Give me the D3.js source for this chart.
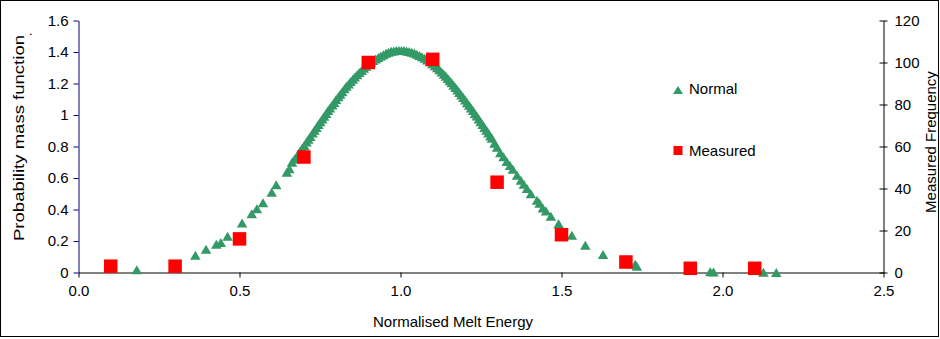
<!DOCTYPE html>
<html><head><meta charset="utf-8">
<script src="https://cdn.jsdelivr.net/npm/d3@7"></script>
<style>
html,body{margin:0;padding:0;background:#fff;}
svg text{font-family:"Liberation Sans",Arial,sans-serif;fill:#000;}
</style></head>
<body>
<svg id="chart" width="940" height="339"></svg>
<script>
// ---------- data ----------
const xTicks = [0.0, 0.5, 1.0, 1.5, 2.0, 2.5];
const yLeftTicks = [0, 0.2, 0.4, 0.6, 0.8, 1, 1.2, 1.4, 1.6];
const yRightTicks = [0, 20, 40, 60, 80, 100, 120];

const measuredX = [0.1, 0.3, 0.5, 0.7, 0.9, 1.1, 1.3, 1.5, 1.7, 1.9, 2.1];
const measuredFreq = [3, 3, 16, 55, 100, 101.5, 43, 18, 5, 2, 2];

const normalX = [0.181,0.363,0.396,0.428,0.442,0.463,0.508,0.538,0.554,0.573,0.600,0.614,0.647,0.655,0.663,
0.671,0.680,0.688,0.694,0.701,0.708,0.714,0.720,0.727,0.733,0.739,0.745,0.751,0.757,0.763,0.769,0.775,0.781,0.788,0.794,
0.800,0.807,0.813,0.819,0.826,0.832,0.839,0.845,0.852,0.858,0.865,0.872,0.879,0.886,0.893,0.900,0.908,0.915,0.923,0.931,
0.939,0.947,0.955,0.963,0.971,0.979,0.987,0.995,1.003,1.011,1.019,1.027,1.035,1.043,1.051,1.059,1.067,1.075,1.083,1.091,
1.099,1.107,1.114,1.121,1.128,1.135,1.141,1.147,1.153,1.159,1.165,1.171,1.177,1.183,1.189,1.195,1.201,1.207,1.213,1.219,
1.225,1.231,1.237,1.243,1.249,1.255,1.261,1.267,1.273,1.279,1.284,
1.292,1.300,1.310,1.320,1.330,1.340,1.349,1.362,1.374,1.383,1.393,1.405,1.424,1.432,1.442,1.452,1.467,1.491,1.532,1.574,
1.629,1.729,1.734,1.962,1.972,2.127,2.167];
const normalY = [0.018,0.109,0.147,0.179,0.190,0.230,0.314,0.373,0.405,0.443,0.510,0.557,0.636,0.658,0.700,
0.720,0.745,0.770,0.787,0.807,0.828,0.846,0.864,0.885,0.903,0.921,0.939,0.957,0.975,0.992,1.009,1.028,1.045,1.064,1.080,
1.098,1.116,1.132,1.148,1.166,1.182,1.197,1.212,1.227,1.241,1.256,1.270,1.283,1.297,1.309,1.325,1.335,1.346,1.356,1.365,
1.374,1.383,1.392,1.398,1.404,1.406,1.409,1.410,1.410,1.409,1.406,1.403,1.399,1.393,1.386,1.378,1.370,1.360,1.350,1.338,
1.326,1.312,1.300,1.287,1.273,1.259,1.246,1.232,1.218,1.204,1.189,1.174,1.159,1.143,1.127,1.111,1.095,1.078,1.062,1.045,
1.028,1.010,0.993,0.975,0.957,0.939,0.921,0.903,0.885,0.867,0.852,
0.820,0.795,0.760,0.735,0.705,0.680,0.655,0.617,0.585,0.560,0.533,0.500,0.458,0.440,0.410,0.390,0.357,0.310,0.236,0.173,
0.114,0.052,0.040,0.004,0.003,0.001,0.000];

const seriesNames = ["Normal", "Measured"];
const titles = {x: "Normalised Melt Energy", yLeft: "Probability mass function", yRight: "Measured Frequency"};

// ---------- drawing ----------
const svg = d3.select("#chart");
const green = "#339966", red = "#ff0000", navy = "#000080";

svg.append("rect").attr("x",0.5).attr("y",0.5).attr("width",938).attr("height",336)
  .attr("fill","#fff").attr("stroke","#000").attr("stroke-width",1);

const x = d3.scaleLinear().domain([0, 2.5]).range([78.5, 883.5]);
const yL = d3.scaleLinear().domain([0, 1.6]).range([272.5, 20.5]);
const yR = d3.scaleLinear().domain([0, 120]).range([272.5, 20.5]);

const fmt1 = d3.format(".1f");

// x axis
const gx = svg.append("g").attr("transform","translate(0,272.5)")
  .call(d3.axisBottom(x).tickValues(xTicks).tickFormat(fmt1).tickSize(5).tickSizeOuter(0));
gx.select(".domain").attr("stroke","#000");
gx.selectAll(".tick line").attr("stroke","#000");
gx.selectAll(".tick text").attr("font-size",15).attr("y",13).attr("dy","0.71em")
  .attr("font-family","Liberation Sans, Arial, sans-serif");

// left axis
const gl = svg.append("g").attr("transform","translate(78.5,0)")
  .call(d3.axisLeft(yL).tickValues(yLeftTicks).tickFormat(d => String(d)).tickSize(5).tickSizeOuter(0));
gl.select(".domain").attr("stroke",navy);
gl.selectAll(".tick line").attr("stroke",navy);
gl.selectAll(".tick text").attr("font-size",15).attr("x",-10)
  .attr("font-family","Liberation Sans, Arial, sans-serif");

// right axis
const gr = svg.append("g").attr("transform","translate(883.5,0)")
  .call(d3.axisRight(yR).tickValues(yRightTicks).tickFormat(d => String(d)).tickSize(4).tickSizeOuter(0));
gr.select(".domain").attr("stroke","#000");
gr.selectAll(".tick line").attr("stroke","#000").attr("x1",-4);
gr.selectAll(".tick text").attr("font-size",15).attr("x",11)
  .attr("font-family","Liberation Sans, Arial, sans-serif");

// axis titles
svg.append("text").attr("x",453).attr("y",327).attr("text-anchor","middle")
  .attr("font-size",15).text(titles.x);
svg.append("text").attr("transform","translate(24,138) rotate(-90)").attr("text-anchor","middle")
  .attr("font-size",14.5).attr("textLength",206).attr("lengthAdjust","spacingAndGlyphs").text(titles.yLeft);
svg.append("text").attr("x",29).attr("y",35).attr("font-size",13).text(".");
svg.append("text").attr("transform","translate(936,142) rotate(-90)").attr("text-anchor","middle")
  .attr("font-size",15).text(titles.yRight);

// markers
const tri = (w,h) => `M0,${-h/2}L${w/2},${h/2}L${-w/2},${h/2}Z`;
svg.append("g").selectAll("path").data(normalX.map((d,i)=>[d, normalY[i]])).join("path")
  .attr("d", tri(10.5,9))
  .attr("transform", d => `translate(${x(d[0])},${yL(d[1])})`)
  .attr("fill", green);

const sq = 13.5;
svg.append("g").selectAll("rect").data(measuredX.map((d,i)=>[d, measuredFreq[i]])).join("rect")
  .attr("x", d => x(d[0]) - sq/2).attr("y", d => yR(d[1]) - sq/2)
  .attr("width", sq).attr("height", sq).attr("fill", red);

// legend
const lg = svg.append("g");
lg.append("path").attr("d", tri(10,8)).attr("transform","translate(678,90)").attr("fill",green);
lg.append("text").attr("x",689).attr("y",94).attr("font-size",15).text(seriesNames[0]);
lg.append("rect").attr("x",673.5).attr("y",146).attr("width",9).attr("height",9).attr("fill",red);
lg.append("text").attr("x",689).attr("y",156).attr("font-size",15).text(seriesNames[1]);
</script>
</body></html>
